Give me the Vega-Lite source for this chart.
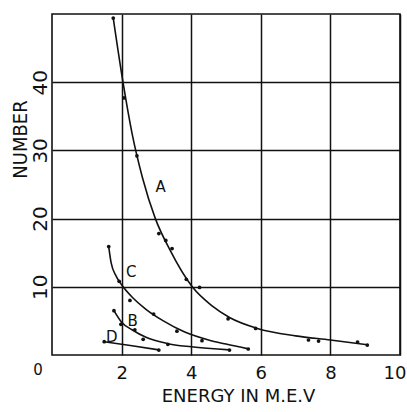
{
  "$schema": "https://vega.github.io/schema/vega-lite/v6.json",
  "autosize": {"type": "none"},
  "padding": {"left": 52, "top": 14, "right": 7, "bottom": 57},
  "width": 348,
  "height": 341,
  "background": "white",
  "config": {
    "view": {"stroke": "#111", "strokeWidth": 1.6},
    "font": "DejaVu Sans"
  },
  "datasets": {
    "curves": [
      {"series": "A", "energy": 1.76, "number": 49.4},
      {"series": "A", "energy": 2.04, "number": 40},
      {"series": "A", "energy": 2.3, "number": 32.5},
      {"series": "A", "energy": 2.6, "number": 26},
      {"series": "A", "energy": 2.97, "number": 20},
      {"series": "A", "energy": 3.4, "number": 15.3},
      {"series": "A", "energy": 4.03, "number": 10},
      {"series": "A", "energy": 4.6, "number": 7.2},
      {"series": "A", "energy": 5.1, "number": 5.5},
      {"series": "A", "energy": 5.9, "number": 3.9},
      {"series": "A", "energy": 7.0, "number": 2.8},
      {"series": "A", "energy": 8.0, "number": 2.2},
      {"series": "A", "energy": 9.06, "number": 1.5},
      {"series": "C", "energy": 1.63, "number": 15.9},
      {"series": "C", "energy": 1.7, "number": 13.5},
      {"series": "C", "energy": 1.85, "number": 11.5},
      {"series": "C", "energy": 2.0, "number": 10.3},
      {"series": "C", "energy": 2.3, "number": 8.5},
      {"series": "C", "energy": 2.7, "number": 6.7},
      {"series": "C", "energy": 3.2, "number": 5.0},
      {"series": "C", "energy": 3.8, "number": 3.4},
      {"series": "C", "energy": 4.5, "number": 2.2},
      {"series": "C", "energy": 5.0, "number": 1.6},
      {"series": "C", "energy": 5.64, "number": 0.9},
      {"series": "B", "energy": 1.78, "number": 6.5},
      {"series": "B", "energy": 2.0, "number": 4.8},
      {"series": "B", "energy": 2.3, "number": 3.7},
      {"series": "B", "energy": 2.7, "number": 2.6},
      {"series": "B", "energy": 3.3, "number": 1.7},
      {"series": "B", "energy": 4.0, "number": 1.2},
      {"series": "B", "energy": 5.1, "number": 0.75},
      {"series": "D", "energy": 1.5, "number": 1.95},
      {"series": "D", "energy": 2.3, "number": 1.35},
      {"series": "D", "energy": 3.07, "number": 0.75}
    ],
    "points": [
      {"series": "A", "energy": 1.76, "number": 49.4},
      {"series": "A", "energy": 2.07, "number": 37.7},
      {"series": "A", "energy": 2.44, "number": 29.2},
      {"series": "A", "energy": 3.07, "number": 17.8},
      {"series": "A", "energy": 3.27, "number": 16.8},
      {"series": "A", "energy": 3.45, "number": 15.6},
      {"series": "A", "energy": 3.86, "number": 11.1},
      {"series": "A", "energy": 4.24, "number": 9.9},
      {"series": "A", "energy": 5.06, "number": 5.3},
      {"series": "A", "energy": 5.85, "number": 3.9},
      {"series": "A", "energy": 7.37, "number": 2.2},
      {"series": "A", "energy": 7.66, "number": 2.05},
      {"series": "A", "energy": 8.78, "number": 1.9},
      {"series": "A", "energy": 9.06, "number": 1.46},
      {"series": "C", "energy": 1.63, "number": 15.9},
      {"series": "C", "energy": 1.93, "number": 10.8},
      {"series": "C", "energy": 2.24, "number": 8.0},
      {"series": "C", "energy": 2.92, "number": 6.0},
      {"series": "C", "energy": 3.59, "number": 3.5},
      {"series": "C", "energy": 4.31, "number": 2.1},
      {"series": "C", "energy": 5.64, "number": 0.88},
      {"series": "B", "energy": 1.78, "number": 6.5},
      {"series": "B", "energy": 1.98, "number": 4.5},
      {"series": "B", "energy": 2.38, "number": 3.7},
      {"series": "B", "energy": 2.62, "number": 2.3},
      {"series": "B", "energy": 3.33, "number": 1.56},
      {"series": "B", "energy": 5.1, "number": 0.73},
      {"series": "D", "energy": 1.5, "number": 1.95},
      {"series": "D", "energy": 3.07, "number": 0.73}
    ],
    "labels": [
      {"text": "A", "energy": 3.12, "number": 24.6},
      {"text": "C", "energy": 2.28, "number": 12.1},
      {"text": "B", "energy": 2.32, "number": 5.0},
      {"text": "D", "energy": 1.72, "number": 2.6},
      {"text": "0", "energy": -0.4, "number": -2.2}
    ]
  },
  "encoding": {
    "x": {
      "field": "energy", "type": "quantitative",
      "scale": {"domain": [0, 10], "nice": false, "zero": false},
      "axis": {
        "values": [2, 4, 6, 8, 10],
        "title": "ENERGY IN M.E.V",
        "titleFont": "DejaVu Sans", "titleFontWeight": "normal", "titleFontSize": 18, "titleColor": "#111",
        "titleX": 186, "titleY": 46, "titleAnchor": "middle", "titleBaseline": "alphabetic",
        "labelFont": "DejaVu Sans", "labelFontSize": 18, "labelColor": "#111",
        "labelPadding": 9, "labelFlush": true, "labelFlushOffset": 6,
        "ticks": false, "domain": false,
        "grid": true, "gridColor": "#111", "gridWidth": 1.5, "gridOpacity": 1
      }
    },
    "y": {
      "field": "number", "type": "quantitative",
      "scale": {"domain": [0, 50], "nice": false, "zero": false},
      "axis": {
        "values": [10, 20, 30, 40],
        "title": "NUMBER",
        "titleFont": "DejaVu Sans Condensed", "titleFontWeight": "normal", "titleFontSize": 20, "titleColor": "#111",
        "titleAngle": 270, "titleX": -32, "titleY": 125, "titleAnchor": "middle", "titleBaseline": "middle",
        "labelFont": "DejaVu Sans", "labelFontSize": 20, "labelColor": "#111",
        "labelAngle": 270, "labelAlign": "center", "labelBaseline": "bottom", "labelPadding": 2,
        "ticks": false, "domain": false,
        "grid": true, "gridColor": "#111", "gridWidth": 1.5, "gridOpacity": 1
      }
    }
  },
  "layer": [
    {
      "data": {"name": "curves"},
      "mark": {"type": "line", "interpolate": "monotone", "color": "#111", "strokeWidth": 1.6},
      "encoding": {"detail": {"field": "series"}}
    },
    {
      "data": {"name": "points"},
      "mark": {"type": "circle", "color": "#111", "size": 14, "opacity": 1}
    },
    {
      "data": {"name": "labels"},
      "mark": {"type": "text", "font": "DejaVu Sans", "fontSize": 15, "color": "#111", "align": "center", "baseline": "middle", "clip": false},
      "encoding": {"text": {"field": "text"}}
    }
  ]
}
